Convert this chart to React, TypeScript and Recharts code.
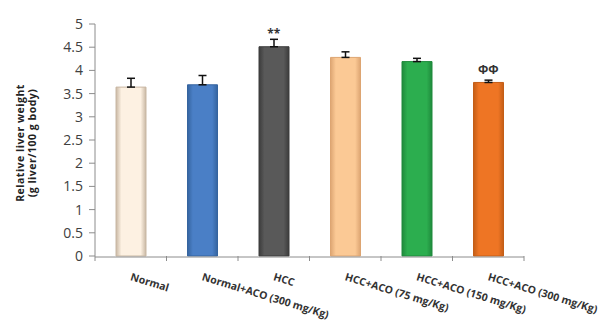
import React from 'react';
import { BarChart, Bar, XAxis, YAxis, Cell, ErrorBar, ReferenceDot } from 'recharts';

const categories = [
  'Normal',
  'Normal+ACO (300 mg/Kg)',
  'HCC',
  'HCC+ACO (75 mg/Kg)',
  'HCC+ACO (150 mg/Kg)',
  'HCC+ACO (300 mg/Kg)',
];
const values = [3.64, 3.69, 4.51, 4.28, 4.19, 3.74];
const errors = [0.19, 0.2, 0.16, 0.12, 0.07, 0.05];
const marks = ['', '', '**', '', '', 'ΦΦ'];
const markOffsets = [0, 0, 1, 0, 0, 6];
const fills = ['#FDF1E2', '#4A7FC6', '#595959', '#FBC995', '#2CAE4F', '#EE7524'];
const edges = ['#C9B8A4', '#35649F', '#3C3C3C', '#DDA572', '#1F8A3C', '#C45E17'];
const yTicks = [0, 0.5, 1, 1.5, 2, 2.5, 3, 3.5, 4, 4.5, 5];
const edgeTicks = [0, 1, 2, 3, 4, 5, 6];

const data = categories.map((name, i) => ({ name, value: values[i], err: [0, errors[i]], edge: i + 0.5 }));

const FONT = "'Open Sans', 'Noto Sans', sans-serif";

const XTick = (props: any) => {
  const { x, y, payload } = props;
  return (
    <g transform={`translate(${x - 1},${y + 23}) rotate(17)`}>
      <text x={0} y={0} textAnchor="start" fontSize={10.5} fontWeight="bold" fill="#333" fontFamily={FONT}>
        {payload.value}
      </text>
    </g>
  );
};

const YLabel = () => (
  <text transform="translate(24,143) rotate(-90)" textAnchor="middle" fontSize={10.5} letterSpacing={0.5} fontWeight="bold" fill="#222" fontFamily={FONT}>
    <tspan x={0} dy={0}>Relative liver weight</tspan>
    <tspan x={0} dy={12}>(g liver/100 g body)</tspan>
  </text>
);

export default function App() {
  return (
    <div style={{ position: 'absolute', left: 0, top: 0, background: '#fff' }}>
      <BarChart width={600} height={325} data={data} margin={{ top: 24, right: 76, bottom: 0, left: 0 }}>
        <defs>
          {fills.map((c, i) => (
            <linearGradient key={i} id={`g${i}`} x1="0" y1="0" x2="1" y2="0">
              <stop offset="0" stopColor={edges[i]} />
              <stop offset="0.18" stopColor={c} />
              <stop offset="0.82" stopColor={c} />
              <stop offset="1" stopColor={edges[i]} />
            </linearGradient>
          ))}
        </defs>
        <XAxis
          xAxisId="b"
          dataKey="name"
          height={68}
          interval={0}
          axisLine={{ stroke: '#8c8c8c' }}
          tickLine={false}
          tickSize={0}
          tickMargin={0}
          tick={<XTick />}
        />
        <XAxis
          xAxisId="a"
          dataKey="edge"
          type="number"
          domain={[0, 6]}
          allowDataOverflow
          ticks={edgeTicks}
          interval={0}
          height={1}
          axisLine={false}
          tickLine={{ stroke: '#8c8c8c' }}
          tickSize={5}
          tick={{ fill: 'none', fontSize: 1 }}
          tickFormatter={() => ''}
        />
        <YAxis
          width={95}
          domain={[0, 5]}
          ticks={yTicks}
          axisLine={{ stroke: '#8c8c8c' }}
          tickLine={{ stroke: '#8c8c8c' }}
          tickSize={6}
          tickMargin={6}
          tick={{ fill: '#404040', fontSize: 14, fontFamily: FONT }}
          label={{ content: <YLabel /> }}
        />
        <Bar xAxisId="b" dataKey="value" barSize={30} isAnimationActive={false}>
          {data.map((d, i) => (
            <Cell key={i} fill={`url(#g${i})`} stroke={edges[i]} strokeWidth={1} />
          ))}
          <ErrorBar dataKey="err" width={4} stroke="#111" strokeWidth={1.5} direction="y" />
        </Bar>
        {marks.map((m, i) =>
          m ? (
            <ReferenceDot
              key={i}
              xAxisId="b"
              x={categories[i]}
              y={values[i] + errors[i]}
              r={0}
              stroke="none"
              fill="none"
              label={{ value: m, position: 'top', offset: markOffsets[i], fontSize: 12, fontWeight: 'bold', fill: '#333', fontFamily: FONT }}
            />
          ) : null
        )}
      </BarChart>
    </div>
  );
}
